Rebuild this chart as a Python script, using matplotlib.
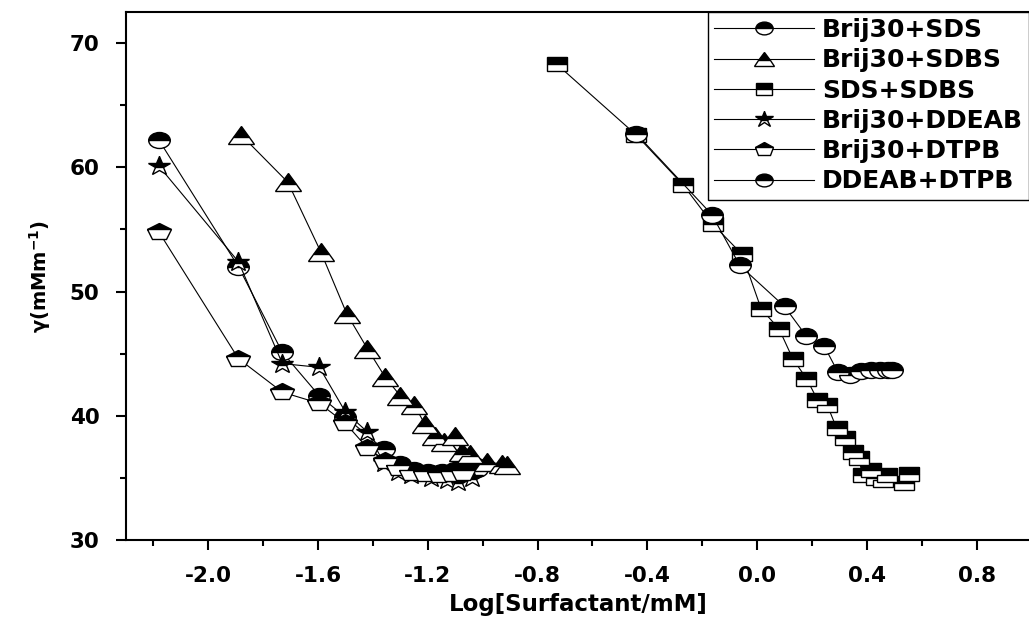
import matplotlib
matplotlib.use("Agg")
import matplotlib.pyplot as plt
from matplotlib.markers import MarkerStyle
from matplotlib.transforms import Affine2D
from matplotlib.ticker import MultipleLocator

plt.rcParams['font.family'] = ['DejaVu Sans']
plt.rcParams['font.weight'] = 'bold'
plt.rcParams['mathtext.default'] = 'bf'

# data
brij_sds_x = [-2.18, -1.89, -1.73, -1.595, -1.50, -1.36, -1.30, -1.25, -1.20, -1.15, -1.10, -1.06, -1.02]
brij_sds_y = [62.2, 52.0, 45.1, 41.6, 39.9, 37.3, 36.1, 35.6, 35.5, 35.5, 35.6, 35.6, 35.7]

brij_sdbs_x = [-1.88, -1.71, -1.59, -1.495, -1.42, -1.355, -1.30, -1.25, -1.21, -1.175,
               -1.14, -1.10, -1.075, -1.045, -0.985, -0.93, -0.91]
brij_sdbs_y = [62.6, 58.8, 53.2, 48.2, 45.4, 43.1, 41.6, 40.9, 39.3, 38.4,
               37.9, 38.4, 37.1, 36.9, 36.3, 36.1, 36.0]

sds_sdbs_x = [-0.73, -0.44, -0.27, -0.16, -0.055, 0.015, 0.08, 0.13, 0.18, 0.22, 0.255,
              0.29, 0.32, 0.35, 0.37, 0.385, 0.415, 0.435, 0.46, 0.475, 0.535, 0.555]
sds_sdbs_y = [68.3, 62.6, 58.6, 55.4, 53.0, 48.6, 47.0, 44.6, 43.0, 41.3, 40.9,
              39.0, 38.2, 37.1, 36.6, 35.2, 35.6, 35.0, 34.8, 35.2, 34.6, 35.3]

brij_ddeab_x = [-2.18, -1.89, -1.73, -1.595, -1.50, -1.42, -1.36, -1.31, -1.26, -1.19, -1.13, -1.09, -1.04]
brij_ddeab_y = [60.1, 52.4, 44.2, 43.9, 40.3, 38.7, 36.2, 35.5, 35.2, 35.0, 34.8, 34.7, 35.0]

brij_dtpb_x = [-2.18, -1.89, -1.73, -1.595, -1.50, -1.42, -1.355, -1.31, -1.26, -1.21, -1.16, -1.11, -1.07]
brij_dtpb_y = [54.8, 44.6, 41.9, 41.0, 39.4, 37.4, 36.4, 35.8, 35.4, 35.3, 35.2, 35.3, 35.4]

ddeab_dtpb_x = [-0.44, -0.165, -0.063, 0.10, 0.18, 0.245, 0.295, 0.338, 0.38, 0.415, 0.447, 0.477, 0.49]
ddeab_dtpb_y = [62.7, 56.2, 52.1, 48.8, 46.4, 45.6, 43.5, 43.3, 43.6, 43.7, 43.7, 43.7, 43.7]

x_ticks = [-2.0, -1.6, -1.2, -0.8, -0.4, 0.0, 0.4, 0.8]
y_ticks = [30, 40, 50, 60, 70]


def half_marker(shape, sx):
    # top half black, bottom half white, stretched sideways like Origin symbols
    return MarkerStyle(shape, fillstyle='top', transform=Affine2D().scale(sx, 1.0))


series = [
    (brij_sds_x, brij_sds_y, "Brij30+SDS", 'o', 11.5, 1.35),
    (brij_sdbs_x, brij_sdbs_y, "Brij30+SDBS", '^', 12.5, 1.5),
    (sds_sdbs_x, sds_sdbs_y, "SDS+SDBS", 's', 10, 1.4),
    (brij_ddeab_x, brij_ddeab_y, "Brij30+DDEAB", '*', 15, 1.15),
    (brij_dtpb_x, brij_dtpb_y, "Brij30+DTPB", 'p', 12.5, 1.4),
    (ddeab_dtpb_x, ddeab_dtpb_y, "DDEAB+DTPB", 'o', 11.5, 1.35),
]

fig = plt.figure(figsize=(10.29, 6.21), dpi=100)
ax = fig.add_axes([0.1224, 0.1304, 0.880, 0.8502])

for xs, ys, label, m, ms, sx in series:
    ax.plot(xs, ys, color='black', lw=0.8, marker=half_marker(m, sx), ms=ms,
            mfc='black', mfcalt='white', mec='black', mew=1.0, label=label)

ax.set_xlim(-2.3, 1.0)
ax.set_ylim(30, 72.5)
ax.set_xticks(x_ticks)
ax.set_xticklabels(["%.1f" % v for v in x_ticks])
ax.set_yticks(y_ticks)
ax.xaxis.set_minor_locator(MultipleLocator(0.2))
ax.yaxis.set_minor_locator(MultipleLocator(5))
ax.tick_params(which='major', direction='out', length=7, width=1.5, labelsize=15.5)
ax.tick_params(axis='x', which='major', pad=12)
ax.tick_params(axis='y', which='major', pad=12)
ax.tick_params(which='minor', direction='out', length=4, width=1.5)
for s in ax.spines.values():
    s.set_linewidth(1.5)

ax.set_xlabel("Log[Surfactant/mM]", fontsize=16.5, fontweight='bold', labelpad=5)
ax.set_ylabel("γ(mMm$^{-1}$)", fontsize=14, fontweight='bold', labelpad=12)

leg = ax.legend(loc='upper right', bbox_to_anchor=(1.0, 0.981), bbox_transform=fig.transFigure,
                fancybox=False, framealpha=1, edgecolor='black', numpoints=1, markerscale=0.8,
                handlelength=4.0, handletextpad=0.3, labelspacing=0.25, borderpad=0.25,
                borderaxespad=0, prop={'weight': 'bold', 'size': 18})
leg.get_frame().set_linewidth(1.0)

fig.savefig("out.png", dpi=100)
